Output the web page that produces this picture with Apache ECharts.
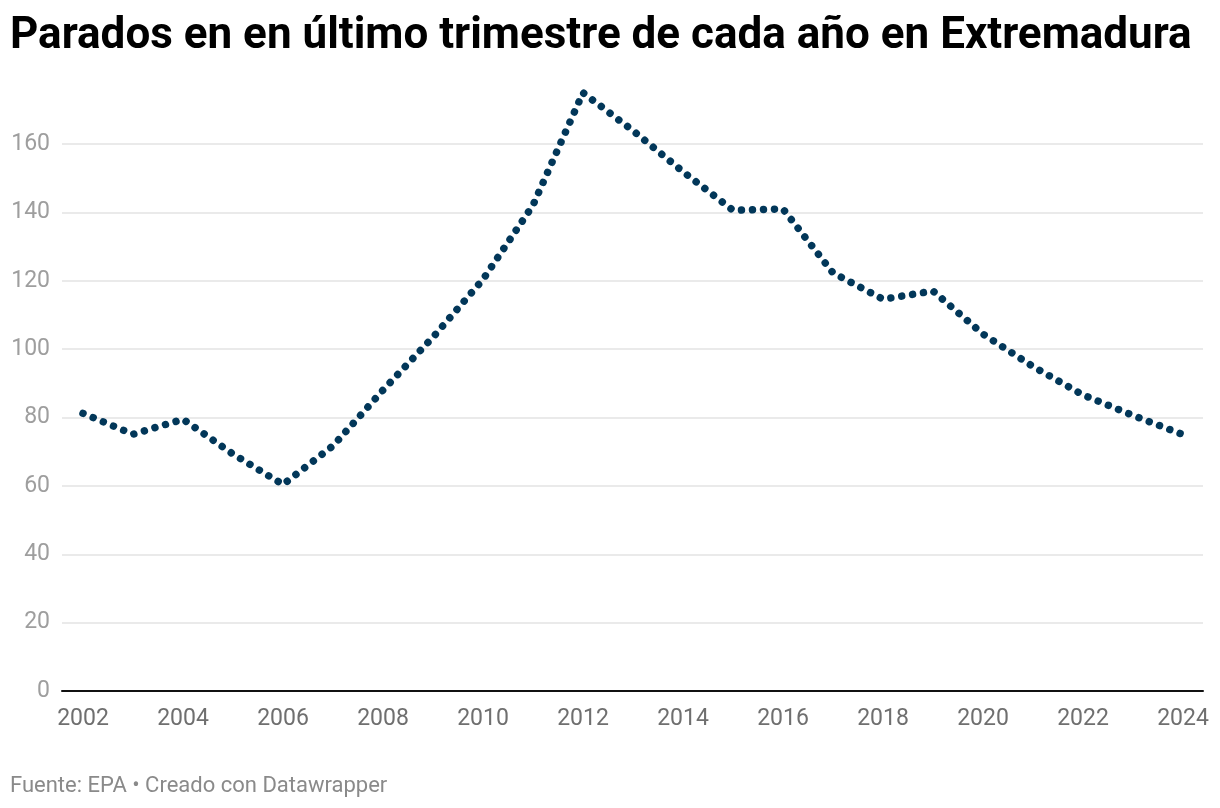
<!DOCTYPE html>
<html>
<head>
<meta charset="utf-8">
<script src="https://cdn.jsdelivr.net/npm/echarts@6/dist/echarts.min.js"></script>
<style>
html,body{margin:0;padding:0;background:#fff;}
#c{width:1220px;height:808px;}
</style>
</head>
<body>
<div id="c"></div>
<script>
const years = [2002,2003,2004,2005,2006,2007,2008,2009,2010,2011,2012,2013,2014,2015,2016,2017,2018,2019,2020,2021,2022,2023,2024];
const parados = [81.2,75.1,79.5,69.3,60.4,71.7,88.0,103.5,120.4,142.1,175.0,163.9,151.9,140.6,141.0,122.3,114.6,117.0,104.4,94.9,86.6,80.6,75.0];
const xTicks = [2002,2004,2006,2008,2010,2012,2014,2016,2018,2020,2022,2024];
const yTicks = [0,20,40,60,80,100,120,140,160];

const chart = echarts.init(document.getElementById('c'), null, {renderer:'canvas'});
const gridColors = yTicks.map(()=> '#e3e3e3').concat(['rgba(0,0,0,0)']);
chart.setOption({
  backgroundColor:'#fff',
  animation:false,
  title:{
    text:'Parados en en último trimestre de cada año en Extremadura',
    left:5, top:10,
    textStyle:{fontFamily:'Roboto', fontWeight:'bold', fontSize:44, color:'#000'}
  },
  graphic:[{
    type:'text', left:10, top:775,
    style:{text:'Fuente: EPA • Creado con Datawrapper', fontFamily:'Roboto', fontSize:22, fill:'#8a8a8a'}
  }],
  grid:{left:62, right:17, top:691-180*(547/160), bottom:117, containLabel:false},
  xAxis:{
    type:'value', min:2001.58, max:2024.4,
    axisLine:{show:true, onZero:false, lineStyle:{color:'#111', width:2}},
    axisTick:{show:false},
    splitLine:{show:false},
    axisLabel:{color:'#6f6f6f', fontFamily:'Roboto', fontSize:23, margin:17,
      customValues:xTicks, formatter:v=> String(v)}
  },
  yAxis:{
    type:'value', min:0, max:180, interval:20,
    axisLine:{show:false}, axisTick:{show:false},
    splitLine:{show:true, lineStyle:{color:gridColors, width:1.5}},
    axisLabel:{color:'#9e9e9e', fontFamily:'Roboto', fontSize:23, margin:12,
      formatter:v=> yTicks.includes(v) ? String(v) : ''}
  },
  series:[{
    type:'line',
    data: years.map((y,i)=>[y, parados[i]]),
    showSymbol:false,
    lineStyle:{color:'#023759', width:7.5, type:[0.01, 11], cap:'round', join:'round'},
    z:5
  }]
});
</script>
</body>
</html>
